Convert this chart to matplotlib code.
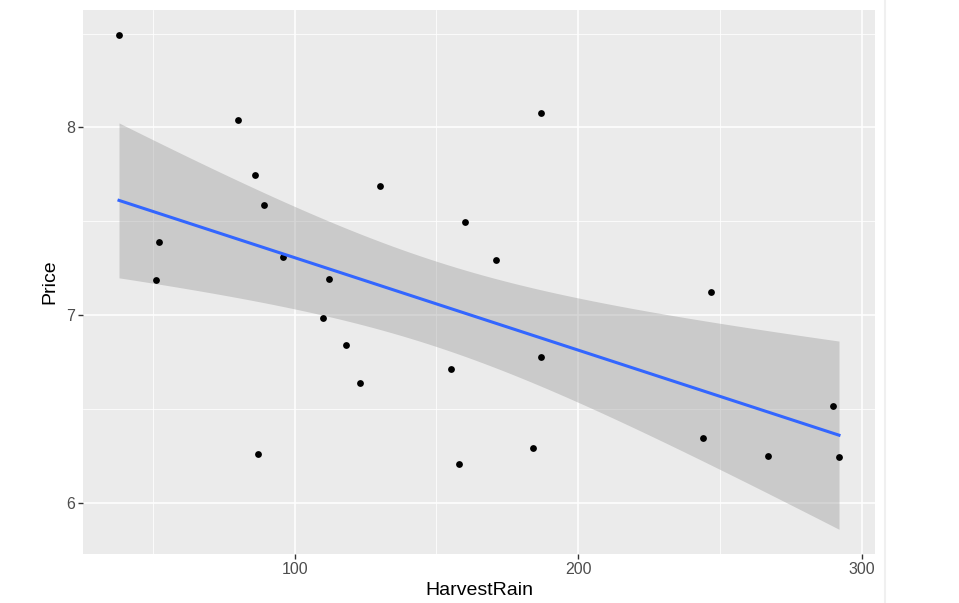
import matplotlib.pyplot as plt
from matplotlib.lines import Line2D
import numpy as np

plt.rcParams["font.family"] = ["Liberation Sans", "DejaVu Sans"]

harvest_rain = [160, 80, 130, 110, 187, 187, 290, 38, 52, 155, 96, 267, 86,
                118, 292, 244, 89, 112, 158, 123, 184, 171, 247, 87, 51]
price = [7.4950, 8.0393, 7.6858, 6.9845, 6.7772, 8.0757, 6.5188, 8.4937,
         7.3880, 6.7127, 7.3094, 6.2518, 7.7443, 6.8398, 6.2435, 6.3459,
         7.5883, 7.1934, 6.2049, 6.6367, 6.2941, 7.2920, 7.1211, 6.2587,
         7.1860]

x = np.array(harvest_rain, dtype=float)
y = np.array(price)
n = len(x)

# linear fit + 95% confidence band (like geom_smooth(method="lm"))
b1, b0 = np.polyfit(x, y, 1)
resid = y - (b0 + b1 * x)
s = np.sqrt(np.sum(resid ** 2) / (n - 2))
t = 2.0687  # t quantile 0.975, df = 23
xs = np.linspace(x.min(), x.max(), 80)
fit = b0 + b1 * xs
se = s * np.sqrt(1 / n + (xs - x.mean()) ** 2 / np.sum((x - x.mean()) ** 2))

fig = plt.figure(figsize=(9.59, 6.03), dpi=100)
ax = fig.add_axes([83 / 959, 1 - 554 / 603, (875 - 83) / 959, (554 - 10) / 603])
ax.set_facecolor("#EBEBEB")
for sp in ax.spines.values():
    sp.set_visible(False)

ax.set_xticks([100, 200, 300])
ax.set_yticks([6, 7, 8])
ax.set_xticks([50, 150, 250], minor=True)
ax.set_yticks([6.5, 7.5, 8.5], minor=True)
ax.grid(True, which="major", color="white", lw=1.1)
ax.grid(True, which="minor", color="white", lw=0.55)
ax.set_axisbelow(True)
ax.tick_params(which="minor", length=0)
ax.tick_params(which="major", length=3.5, color="#333333", width=1,
               labelcolor="#4D4D4D", labelsize=11.5, pad=2)

ax.scatter(x, y, s=24, color="black", zorder=3, linewidths=0)
ax.fill_between(xs, fit - t * se, fit + t * se, color="#999999", alpha=0.4,
                linewidth=0, zorder=2)
ax.plot(xs, fit, color="#3366FF", lw=2.2, zorder=4)

lo = min(y.min(), (fit - t * se).min())
hi = max(y.max(), (fit + t * se).max())
ax.set_xlim(x.min() - 0.05 * (x.max() - x.min()), x.max() + 0.05 * (x.max() - x.min()))
ax.set_ylim(lo - 0.05 * (hi - lo), hi + 0.05 * (hi - lo))

ax.set_xlabel("HarvestRain", fontsize=14, color="black", labelpad=4)
ax.set_ylabel("Price", fontsize=14, color="black", labelpad=6)

fig.add_artist(Line2D([885 / 959, 885 / 959], [0, 1], color="#F0F0F0", lw=1.5))

fig.savefig("out.png", dpi=100)
